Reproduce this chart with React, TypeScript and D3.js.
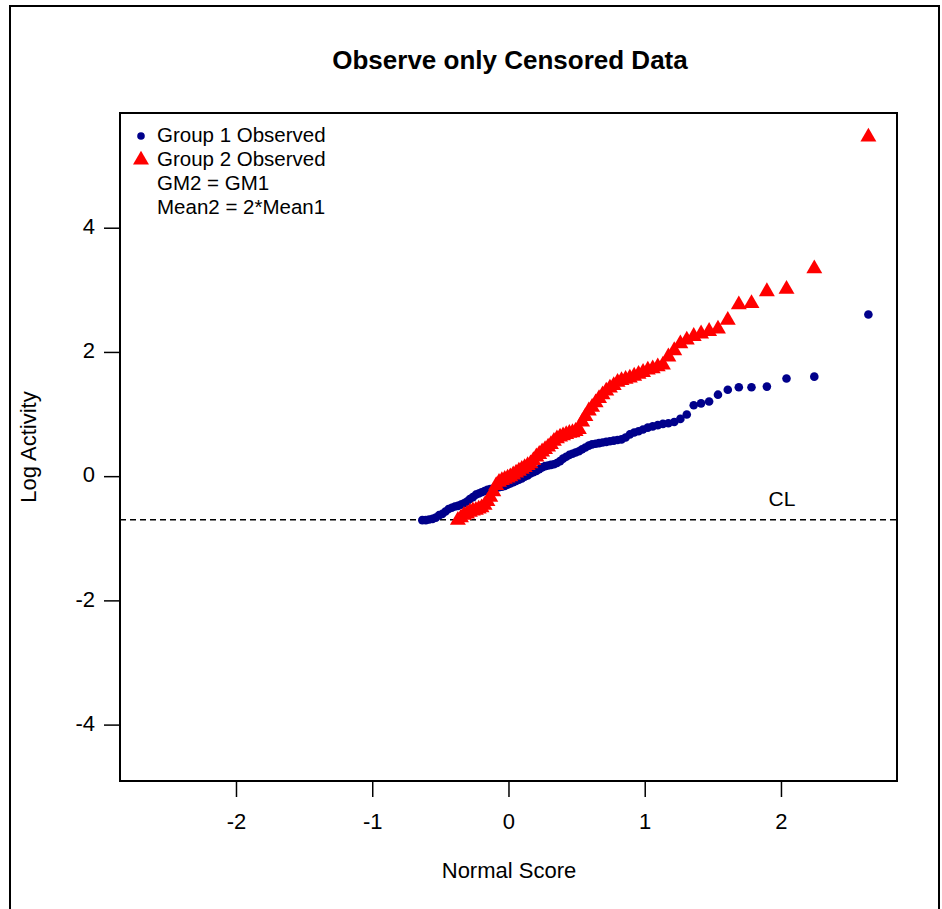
import React from 'react';
import * as d3 from 'd3';

// normal scores and log activity
const group1X = [
  -0.636, -0.61, -0.586, -0.561, -0.537, -0.513, -0.489, -0.466, -0.443, -0.42,
  -0.397, -0.375, -0.352, -0.33, -0.308, -0.287, -0.265, -0.243, -0.222, -0.201,
  -0.179, -0.158, -0.137, -0.115, -0.094, -0.073, -0.052, -0.031, -0.01, 0.01,
  0.031, 0.052, 0.073, 0.094, 0.115, 0.137, 0.158, 0.179, 0.201, 0.222,
  0.243, 0.265, 0.287, 0.308, 0.33, 0.352, 0.375, 0.397, 0.42, 0.443,
  0.466, 0.489, 0.513, 0.537, 0.561, 0.586, 0.61, 0.636, 0.661, 0.687,
  0.714, 0.741, 0.769, 0.797, 0.826, 0.856, 0.887, 0.919, 0.951, 0.984,
  1.019, 1.055, 1.092, 1.13, 1.17, 1.213, 1.258, 1.305, 1.356, 1.41,
  1.469, 1.534, 1.606, 1.687, 1.78, 1.893, 2.037, 2.241, 2.638,
];
const group1Y = [
  -0.7, -0.7, -0.69, -0.68, -0.66, -0.62, -0.6, -0.56, -0.52, -0.5,
  -0.48, -0.47, -0.45, -0.43, -0.4, -0.36, -0.33, -0.29, -0.27, -0.25,
  -0.23, -0.21, -0.2, -0.19, -0.18, -0.17, -0.16, -0.15, -0.13, -0.11,
  -0.09, -0.07, -0.05, -0.03, 0.0, 0.02, 0.05, 0.07, 0.09, 0.12,
  0.15, 0.17, 0.18, 0.19, 0.2, 0.22, 0.25, 0.29, 0.32, 0.35,
  0.37, 0.39, 0.41, 0.44, 0.47, 0.5, 0.52, 0.53, 0.54, 0.55,
  0.56, 0.57, 0.58, 0.59, 0.6, 0.63, 0.68, 0.71, 0.73, 0.76,
  0.79, 0.81, 0.83, 0.85, 0.86, 0.88, 0.93, 1.0, 1.15, 1.18,
  1.21, 1.32, 1.4, 1.44, 1.44, 1.45, 1.58, 1.61, 2.61,
];

const group2X = [
  -0.375, -0.352, -0.33, -0.308, -0.287, -0.265, -0.243, -0.222, -0.201, -0.179,
  -0.158, -0.137, -0.115, -0.094, -0.073, -0.052, -0.031, -0.01, 0.01, 0.031,
  0.052, 0.073, 0.094, 0.115, 0.137, 0.158, 0.179, 0.201, 0.222, 0.243,
  0.265, 0.287, 0.308, 0.33, 0.352, 0.375, 0.397, 0.42, 0.443, 0.466,
  0.489, 0.513, 0.537, 0.561, 0.586, 0.61, 0.636, 0.661, 0.687, 0.714,
  0.741, 0.769, 0.797, 0.826, 0.856, 0.887, 0.919, 0.951, 0.984, 1.019,
  1.055, 1.092, 1.13, 1.17, 1.213, 1.258, 1.305, 1.356, 1.41, 1.469,
  1.534, 1.606, 1.687, 1.78, 1.893, 2.037, 2.241, 2.638,
];
const group2Y = [
  -0.7, -0.66, -0.62, -0.6, -0.57, -0.55, -0.54, -0.52, -0.5, -0.46,
  -0.4, -0.33, -0.24, -0.14, -0.09, -0.06, -0.04, -0.02, 0.0, 0.03,
  0.06, 0.09, 0.12, 0.15, 0.18, 0.21, 0.26, 0.32, 0.36, 0.4,
  0.44, 0.48, 0.52, 0.57, 0.61, 0.64, 0.66, 0.68, 0.7, 0.71,
  0.73, 0.76, 0.88, 0.97, 1.06, 1.12, 1.19, 1.26, 1.32, 1.38,
  1.43, 1.47, 1.52, 1.55, 1.57, 1.59, 1.62, 1.65, 1.68, 1.72,
  1.74, 1.77, 1.8, 1.93, 2.03, 2.14, 2.2, 2.26, 2.3, 2.34,
  2.38, 2.52, 2.77, 2.79, 2.98, 3.02, 3.35, 5.47,
];

const xTicks = [-2, -1, 0, 1, 2];
const yTicks = [-4, -2, 0, 2, 4];
const censorLimit = -0.693;
const legendLabels = ['Group 1 Observed', 'Group 2 Observed', 'GM2 = GM1', 'Mean2 = 2*Mean1'];

const W = 942;
const H = 909;
const box = { left: 120, right: 897, top: 113, bottom: 781 };
const font = '"Liberation Sans", Arial, Helvetica, sans-serif';

const App: React.FC = () => {
  const x = d3.scaleLinear().domain([-2.855, 2.848]).range([box.left, box.right]);
  const y = d3.scaleLinear().domain([-4.9, 5.855]).range([box.bottom, box.top]);
  const tri = d3.symbol().type(d3.symbolTriangle).size(110)() as string;

  const pts1 = group1X.map((v, i) => [v, group1Y[i]]);
  const pts2 = group2X.map((v, i) => [v, group2Y[i]]);

  return (
    <svg width={W} height={H} style={{ position: 'absolute', left: 0, top: 0, background: '#fff' }} fontFamily={font}>
      <rect x={10} y={6} width={929} height={930} fill="none" stroke="#000" strokeWidth={2} />

      <text x={510} y={62} textAnchor="middle" dominantBaseline="middle" fontSize={26} fontWeight="bold">
        Observe only Censored Data
      </text>

      {/* censoring limit */}
      <line x1={box.left} x2={box.right} y1={y(censorLimit)} y2={y(censorLimit)} stroke="#000" strokeWidth={1.5} strokeDasharray="6,4" />
      <text x={782} y={y(censorLimit) - 19} textAnchor="middle" dominantBaseline="middle" fontSize={21}>CL</text>

      {pts1.map((p, i) => (
        <circle key={'a' + i} cx={x(p[0])} cy={y(p[1])} r={4.3} fill="#00008B" />
      ))}
      {pts2.map((p, i) => (
        <path key={'b' + i} d={tri} transform={`translate(${x(p[0])},${y(p[1])})`} fill="#FF0000" />
      ))}

      {/* legend */}
      <circle cx={141} cy={136} r={3.8} fill="#00008B" />
      <path d={tri} transform="translate(141,160)" fill="#FF0000" />
      {legendLabels.map((t, i) => (
        <text key={t} x={157} y={137 + i * 24} dominantBaseline="middle" fontSize={20.5}>{t}</text>
      ))}

      <rect x={box.left} y={box.top} width={box.right - box.left} height={box.bottom - box.top} fill="none" stroke="#000" strokeWidth={2} />

      {/* x axis */}
      {xTicks.map(t => (
        <g key={'x' + t}>
          <line x1={x(t)} x2={x(t)} y1={box.bottom} y2={box.bottom + 16} stroke="#000" strokeWidth={1.5} />
          <text x={x(t)} y={823} textAnchor="middle" dominantBaseline="middle" fontSize={22}>{t < 0 ? '-' + Math.abs(t) : t}</text>
        </g>
      ))}
      <text x={509} y={872} textAnchor="middle" dominantBaseline="middle" fontSize={22}>Normal Score</text>

      {/* y axis */}
      {yTicks.map(t => (
        <g key={'y' + t}>
          <line x1={box.left - 16} x2={box.left} y1={y(t)} y2={y(t)} stroke="#000" strokeWidth={1.5} />
          <text x={95} y={y(t)} textAnchor="end" dominantBaseline="middle" fontSize={22}>{t < 0 ? '-' + Math.abs(t) : t}</text>
        </g>
      ))}
      <text transform={`translate(30,${(box.top + box.bottom) / 2}) rotate(-90)`} textAnchor="middle" dominantBaseline="middle" fontSize={22}>
        Log Activity
      </text>
    </svg>
  );
};

export default App;
